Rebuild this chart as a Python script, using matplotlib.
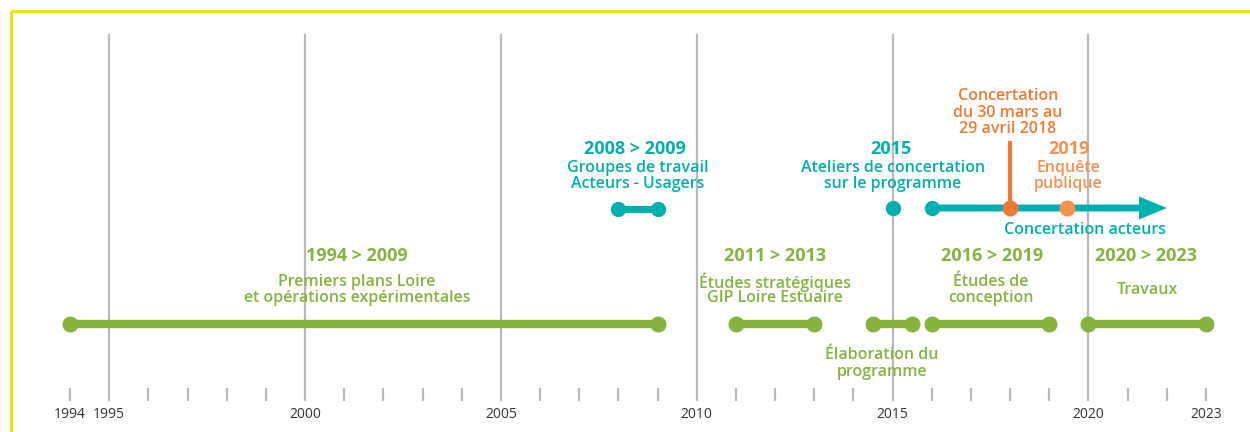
import matplotlib
matplotlib.use("Agg")
import matplotlib.pyplot as plt
from matplotlib.patches import FancyArrowPatch

# ---- data ----
tick_years = [1994, 1995, 2000, 2005, 2010, 2015, 2020, 2023]
grid_years = [1995, 2000, 2005, 2010, 2015, 2020]
all_years = list(range(1994, 2024))

green_starts = [1994, 2011, 2014.5, 2016, 2020]
green_ends = [2009, 2013, 2015.5, 2019, 2023]

teal_seg_start, teal_seg_end = 2008, 2009
teal_dot = 2015
arrow_start, arrow_end = 2016, 2022.0
orange_dark = 2018
orange_light = 2019.45

GREEN = "#84b33e"
TEAL = "#00b0ae"
ORANGE = "#f07a2f"
ORANGE_L = "#f5914f"
GRAY = "#b9b9bd"
TXT = "#333333"

plt.rcParams['font.family'] = ['Open Sans', 'DejaVu Sans']

W, H = 1250, 432
fig = plt.figure(figsize=(W / 100, H / 100), dpi=100)
ax = fig.add_axes([0, 0, 1, 1])
scale = (1206 - 70) / (2023 - 1994)
ax.set_xlim(1994 - 70 / scale, 1994 + (W - 70) / scale)
ax.set_ylim(H, 0)
ax.axis('off')

def px(x):
    return 1994 + (x - 70) / scale

# yellow frame
ax.plot([px(11), px(11)], [H, 11], color="#e8e400", lw=2.0, solid_capstyle='butt', zorder=1)
ax.plot([px(11), px(W)], [11, 11], color="#e8e400", lw=2.0, solid_capstyle='butt', zorder=1)

# grid lines
for yv in grid_years:
    ax.plot([yv, yv], [35, 400], color=GRAY, lw=1.6, zorder=1)
# small ticks
for yv in all_years:
    if yv not in grid_years:
        ax.plot([yv, yv], [389, 400], color=GRAY, lw=1.6, zorder=1)
for yv in tick_years:
    ax.text(yv, 415, str(yv), ha='center', va='center', fontsize=10, color=TXT)

# green bars
for s, e in zip(green_starts, green_ends):
    ax.plot([s, e], [324, 324], color=GREEN, lw=6, solid_capstyle='butt', zorder=3)
    ax.plot([s, e], [324, 324], 'o', color=GREEN, ms=11.5, zorder=4, mec='none')

# teal
ax.plot([teal_seg_start, teal_seg_end], [209, 209], color=TEAL, lw=5, zorder=3)
ax.plot([teal_seg_start, teal_seg_end], [209, 209], 'o', color=TEAL, ms=11, mec='none', zorder=4)
ax.plot([teal_dot], [208], 'o', color=TEAL, ms=11, mec='none', zorder=4)
ax.plot([arrow_start], [208], 'o', color=TEAL, ms=11, mec='none', zorder=4)
arr = FancyArrowPatch((arrow_start, 208), (arrow_end, 208),
                      arrowstyle='simple,head_length=2.0,head_width=1.65,tail_width=0.5',
                      mutation_scale=10, color=TEAL, lw=0, zorder=3,
                      shrinkA=0, shrinkB=0)
ax.add_patch(arr)

# orange
ax.plot([orange_dark, orange_dark], [143, 208], color=ORANGE, lw=3, zorder=4)
ax.plot([orange_dark], [208], 'o', color=ORANGE, ms=11.5, mec='none', zorder=5)
ax.plot([orange_light], [208], 'o', color=ORANGE_L, ms=11.5, mec='none', zorder=5)

def txt(x, y, s, c, bold=False):
    ax.text(px(x), y, s, ha='center', va='center', color=c,
            fontsize=13 if bold else 11.5,
            fontweight='bold' if bold else 'semibold', zorder=6)

# teal texts
txt(635, 149, "2008 > 2009", TEAL, True)
txt(638, 168, "Groupes de travail", TEAL)
txt(638, 184, "Acteurs - Usagers", TEAL)
txt(891, 149, "2015", TEAL, True)
txt(893, 168, "Ateliers de concertation", TEAL)
txt(893, 184, "sur le programme", TEAL)
txt(1085, 230, "Concertation acteurs", TEAL)

# orange texts
txt(1008, 96, "Concertation", ORANGE)
txt(1008, 113, "du 30 mars au", ORANGE)
txt(1008, 129, "29 avril 2018", ORANGE)
txt(1069, 149, "2019", ORANGE_L, True)
txt(1068, 168, "Enquête", ORANGE_L)
txt(1068, 184, "publique", ORANGE_L)

# green texts
txt(357, 256, "1994 > 2009", GREEN, True)
txt(357, 282, "Premiers plans Loire", GREEN)
txt(357, 298, "et opérations expérimentales", GREEN)
txt(775, 256, "2011 > 2013", GREEN, True)
txt(775, 282, "Études stratégiques", GREEN)
txt(775, 298, "GIP Loire Estuaire", GREEN)
txt(882, 355, "Élaboration du", GREEN)
txt(882, 372, "programme", GREEN)
txt(992, 256, "2016 > 2019", GREEN, True)
txt(991, 282, "Études de", GREEN)
txt(991, 298, "conception", GREEN)
txt(1146, 256, "2020 > 2023", GREEN, True)
txt(1147, 290, "Travaux", GREEN)

fig.savefig("out.png", dpi=100, facecolor="white")
